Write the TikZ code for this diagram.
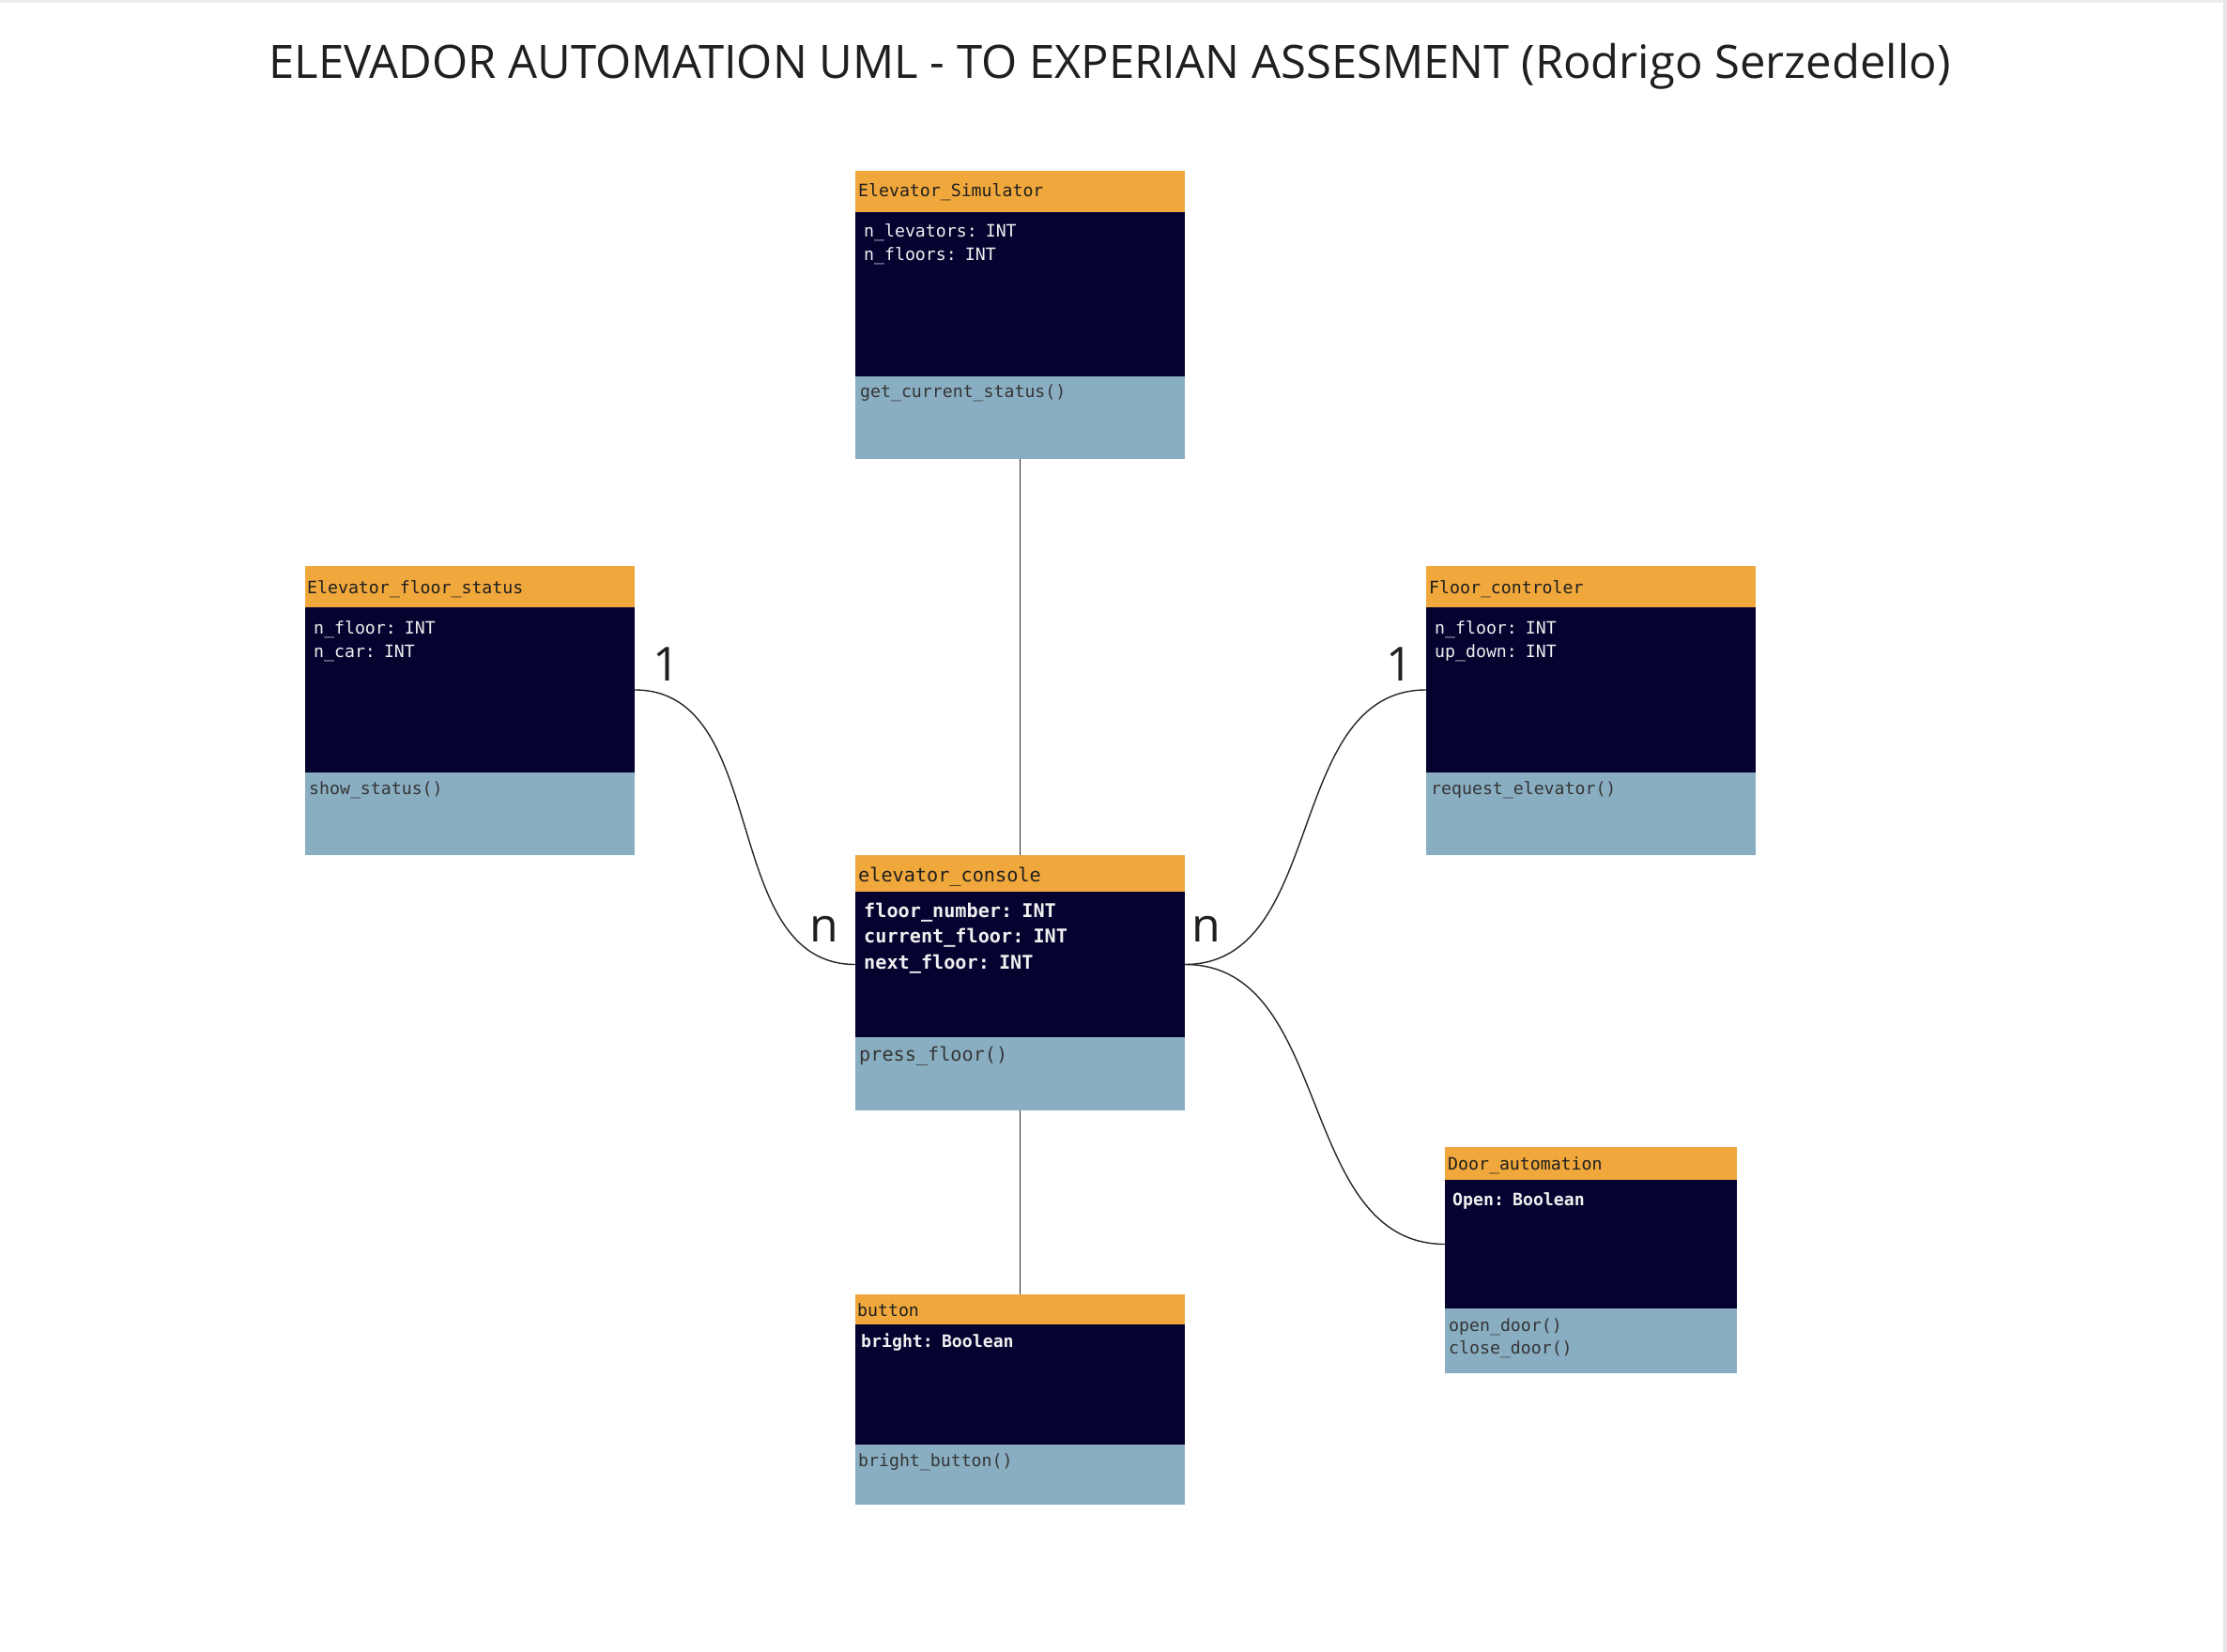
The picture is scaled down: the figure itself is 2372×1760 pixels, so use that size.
\documentclass[tikz,border=0pt]{standalone}
\usepackage{fontspec}
\setmainfont{Open Sans}
\setmonofont{DejaVu Sans Mono}
\usetikzlibrary{positioning}
\definecolor{headorange}{HTML}{F0A83C}
\definecolor{attrnavy}{HTML}{050230}
\definecolor{methblue}{HTML}{89AEC2}
\definecolor{linegray}{HTML}{262626}
\definecolor{textdark}{HTML}{1F1F1F}
\definecolor{attrwhite}{HTML}{F0F0F0}

\begin{document}
\begin{tikzpicture}[x=1pt,y=-1pt]
	\tikzstyle{part}=[rectangle, inner sep=0pt, outer sep=0pt, anchor=north west]
	\tikzstyle{head}=[part, fill=headorange]
	\tikzstyle{attr}=[part, fill=attrnavy]
	\tikzstyle{meth}=[part, fill=methblue]
	\tikzstyle{umltext}=[inner sep=0pt, anchor=base west, text width=300pt, align=left, font=\ttfamily\fontsize{18.2}{25}\selectfont]
	\tikzstyle{headtext}=[umltext, text=textdark]
	\tikzstyle{attrtext}=[umltext, text=attrwhite]
	\tikzstyle{methtext}=[umltext, text=textdark!90]
	\tikzstyle{mult}=[inner sep=0pt, anchor=base, text=textdark, font=\fontsize{50}{60}\selectfont]
	\tikzstyle{link}=[draw=linegray, line width=1.4pt]
	
	% Page
	\useasboundingbox (0,0) rectangle (2372,1760);
	\fill[white] (0,0) rectangle (2372,1760);
	\fill[black!7] (0,0) rectangle (2372,3);
	\fill[black!10] (2368,0) rectangle (2372,1760);
	
	% Title
	\node[inner sep=0pt, anchor=base, text=textdark, font=\fontsize{49}{58}\selectfont] (title) at (1182,84)
	{ELEVADOR AUTOMATION UML - TO EXPERIAN ASSESMENT (Rodrigo Serzedello)};
	
	% Draw class boxes
	\foreach \name/\x/\y/\w/\hh/\ah/\mh in {sim/911/182/351/44/175/88, fstat/325/603/351/44/176/88, fctrl/1519/603/351/44/176/88, cons/911/911/351/39/155/78, door/1539/1222/311/35/137/69, btn/911/1379/351/32/128/64}
	{
		\node[head, minimum width=\w pt, minimum height=\hh pt] (\name-h) at (\x,\y) {};
		\node[attr, minimum width=\w pt, minimum height=\ah pt, below=0pt of \name-h] (\name-a) {};
		\node[meth, minimum width=\w pt, minimum height=\mh pt, below=0pt of \name-a] (\name-m) {};
	}
	
	% Elevator_Simulator
	\node[headtext] (sim-ht) at (914,210) {Elevator\_Simulator};
	\node[attrtext] (sim-at) at (920,253) {n\_levators: INT\\n\_floors: INT};
	\node[methtext] (sim-mt) at (916,424) {get\_current\_status()};
	
	% Elevator_floor_status
	\node[headtext] (fstat-ht) at (327,632) {Elevator\_floor\_status};
	\node[attrtext] (fstat-at) at (334,675) {n\_floor: INT\\n\_car: INT};
	\node[methtext] (fstat-mt) at (329,846) {show\_status()};
	
	% Floor_controler
	\node[headtext] (fctrl-ht) at (1522,632) {Floor\_controler};
	\node[attrtext] (fctrl-at) at (1528,675) {n\_floor: INT\\up\_down: INT};
	\node[methtext] (fctrl-mt) at (1524,846) {request\_elevator()};
	
	% elevator_console
	\node[headtext, font=\ttfamily\fontsize{20.2}{27.5}\selectfont] (cons-ht) at (914,939) {elevator\_console};
	\node[attrtext, font=\ttfamily\bfseries\fontsize{20.2}{27.5}\selectfont] (cons-at) at (920,977) {floor\_number: INT\\current\_floor: INT\\next\_floor: INT};
	\node[methtext, font=\ttfamily\fontsize{20.2}{27.5}\selectfont] (cons-mt) at (915,1130) {press\_floor()};
	
	% Door_automation
	\node[headtext] (door-ht) at (1542,1246) {Door\_automation};
	\node[attrtext, font=\ttfamily\bfseries\fontsize{18.2}{24}\selectfont] (door-at) at (1547,1284) {Open: Boolean};
	\node[methtext, font=\ttfamily\fontsize{18.2}{24}\selectfont] (door-mt) at (1543,1418) {open\_door()\\close\_door()};
	
	% button
	\node[headtext] (btn-ht) at (913,1402) {button};
	\node[attrtext, font=\ttfamily\bfseries\fontsize{18.2}{24}\selectfont] (btn-at) at (917,1435) {bright: Boolean};
	\node[methtext] (btn-mt) at (914,1562) {bright\_button()};
	
	% Connect the classes
	\draw[link] (sim-m.south) -- (cons-h.north);
	\draw[link] (cons-m.south) -- (btn-h.north);
	\draw[link] (fstat-a.east) to[out=0,in=180] (cons-a.west);
	\draw[link] (fctrl-a.west) to[out=180,in=0] (cons-a.east);
	\draw[link] (cons-a.east) to[out=0,in=180] (door-a.west);
	
	% Multiplicities
	\node[mult] (fstat-one) at (710,725) {1};
	\node[mult] (fctrl-one) at (1491,725) {1};
	\node[mult] (cons-nl) at (878,1003) {n};
	\node[mult] (cons-nr) at (1285,1003) {n};
\end{tikzpicture}
\end{document}
